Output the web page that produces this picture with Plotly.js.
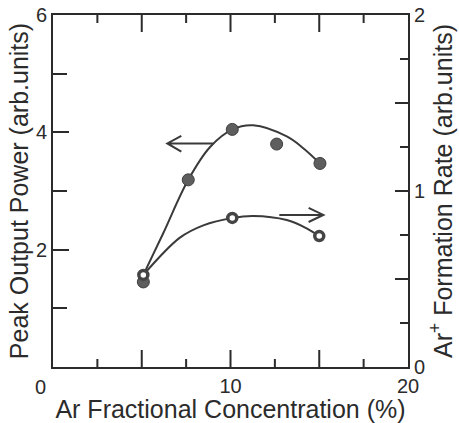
<!DOCTYPE html>
<html>
<head>
<meta charset="utf-8">
<script src="https://cdn.plot.ly/plotly-3.0.1.min.js"></script>
<style>html,body{margin:0;padding:0;background:#fff;}#chart{width:459px;height:423px;}</style>
</head>
<body>
<div id="chart"></div>
<script>
// Peak output power (left axis), filled circles
const powerX = [5.09, 7.62, 10.1, 12.6, 15.04];
const powerY = [1.45, 3.19, 4.05, 3.80, 3.47];
// Ar+ formation rate (right axis), open circles
const rateX = [5.09, 10.1, 15.0];
const rateY = [0.523, 0.847, 0.744];
// hand-drawn fitted curves
const powerCurveX = [5.09, 6.21, 7.62, 8.85, 10.11, 11.28, 13.17, 14.10, 15.04];
const powerCurveY = [1.57, 2.28, 3.19, 3.75, 4.05, 4.12, 3.93, 3.73, 3.47];
const rateCurveX = [5.09, 7.15, 8.47, 10.11, 11.28, 13.17, 14.29, 15.0];
const rateCurveY = [0.523, 0.735, 0.805, 0.847, 0.858, 0.835, 0.788, 0.744];
// ticks and tick labels
const xTickVals = [0, 10, 20];
const xTickText = ['', '10', '20'];
const xMajorInner = [5, 10, 15];
const xMinorVals = [2.5, 7.5, 12.5, 17.5];
const leftTickVals = [0, 2, 4, 6];
const leftTickText = ['', '2', '4', '6'];
const leftMinorVals = [1, 3, 5];
const rightTickVals = [0, 0.5, 1, 1.5, 2];
const rightTickText = ['0', '', '1', '', '2'];
const rightMinorVals = [0.25, 0.75, 1.25, 1.75];

const ink = '#2b2b2b';
const font = 'Liberation Sans, Arial, Helvetica, sans-serif';
const yMax = 6;
const pxPerUnit = 352 / yMax; // plot height / left-axis span

const traces = [
  {x: powerCurveX, y: powerCurveY, mode: 'lines', line: {shape: 'spline', smoothing: 1, color: '#3a3a3a', width: 2}, xaxis: 'x', yaxis: 'y', hoverinfo: 'skip'},
  {x: rateCurveX, y: rateCurveY, mode: 'lines', line: {shape: 'spline', smoothing: 1, color: '#3a3a3a', width: 2}, xaxis: 'x', yaxis: 'y2', hoverinfo: 'skip'},
  {x: powerX, y: powerY, mode: 'markers', marker: {symbol: 'circle', size: 12, color: '#5e5e5e', line: {color: '#3e3e3e', width: 1}}, xaxis: 'x', yaxis: 'y'},
  {x: rateX, y: rateY, mode: 'markers', marker: {symbol: 'circle', size: 9, color: '#ffffff', line: {color: '#454545', width: 3.5}}, xaxis: 'x', yaxis: 'y2'}
];

// x-axis tick marks (bottom and mirrored top) as one path in data coordinates
function tickPath(vals, lenPx) {
  const d = lenPx / pxPerUnit;
  return vals.map(v => `M ${v},0 L ${v},${d} M ${v},${yMax} L ${v},${yMax - d}`).join(' ');
}
const xTickPath = tickPath(xMajorInner, 17) + ' ' + tickPath(xMinorVals, 8);

const layout = {
  width: 459, height: 423,
  margin: {l: 53, r: 51, t: 15, b: 56},
  paper_bgcolor: '#fff', plot_bgcolor: '#fff',
  showlegend: false,
  font: {family: font, color: ink, size: 20},
  xaxis: {
    range: [0, 20], showgrid: false, zeroline: false,
    showline: true, linecolor: ink, linewidth: 2, mirror: true,
    ticks: '', tickvals: xTickVals, ticktext: xTickText,
    tickfont: {size: 20, family: font, color: ink},
    title: {text: 'Ar Fractional Concentration (%)', font: {size: 25, family: font, color: ink}, standoff: 3}
  },
  yaxis: {
    range: [0, yMax], showgrid: false, zeroline: false,
    showline: true, linecolor: ink, linewidth: 2,
    ticks: 'inside', tickvals: leftTickVals, ticktext: leftTickText, ticklen: 16, tickwidth: 2, tickcolor: ink,
    tickfont: {size: 20, family: font, color: ink},
    minor: {tickvals: leftMinorVals, ticks: 'inside', ticklen: 14, tickwidth: 2, tickcolor: ink},
    title: {text: 'Peak Output Power (arb.units)', font: {size: 25, family: font, color: ink}, standoff: 0}
  },
  yaxis2: {
    overlaying: 'y', side: 'right', anchor: 'x', range: [0, 2], showgrid: false, zeroline: false,
    showline: true, linecolor: ink, linewidth: 2,
    ticks: 'inside', tickvals: rightTickVals, ticktext: rightTickText, ticklen: 13, tickwidth: 2, tickcolor: ink,
    tickfont: {size: 20, family: font, color: ink},
    minor: {tickvals: rightMinorVals, ticks: 'inside', ticklen: 8, tickwidth: 2, tickcolor: ink},
    title: {text: 'Ar<sup>+</sup> Formation Rate (arb.units)', font: {size: 25, family: font, color: ink}, standoff: 2}
  },
  annotations: [
    {text: '0', x: 0, y: 0, xref: 'x', yref: 'y', showarrow: false, xshift: -13, yanchor: 'top', yshift: -7, font: {size: 20, family: font, color: ink}}
  ],
  shapes: [
    {type: 'path', xref: 'x', yref: 'y', path: xTickPath, line: {color: ink, width: 2}, layer: 'above'},
    {type: 'path', xref: 'x', yref: 'y', path: 'M 9.03,3.81 L 6.44,3.81 M 7.23,3.94 L 6.44,3.81 L 7.23,3.67', line: {color: '#3a3a3a', width: 2}},
    {type: 'path', xref: 'x', yref: 'y2', path: 'M 12.75,0.864 L 15.23,0.864 M 14.4,0.904 L 15.23,0.864 L 14.4,0.824', line: {color: '#3a3a3a', width: 2}}
  ]
};

Plotly.newPlot('chart', traces, layout, {displayModeBar: false, staticPlot: true});
</script>
</body>
</html>
